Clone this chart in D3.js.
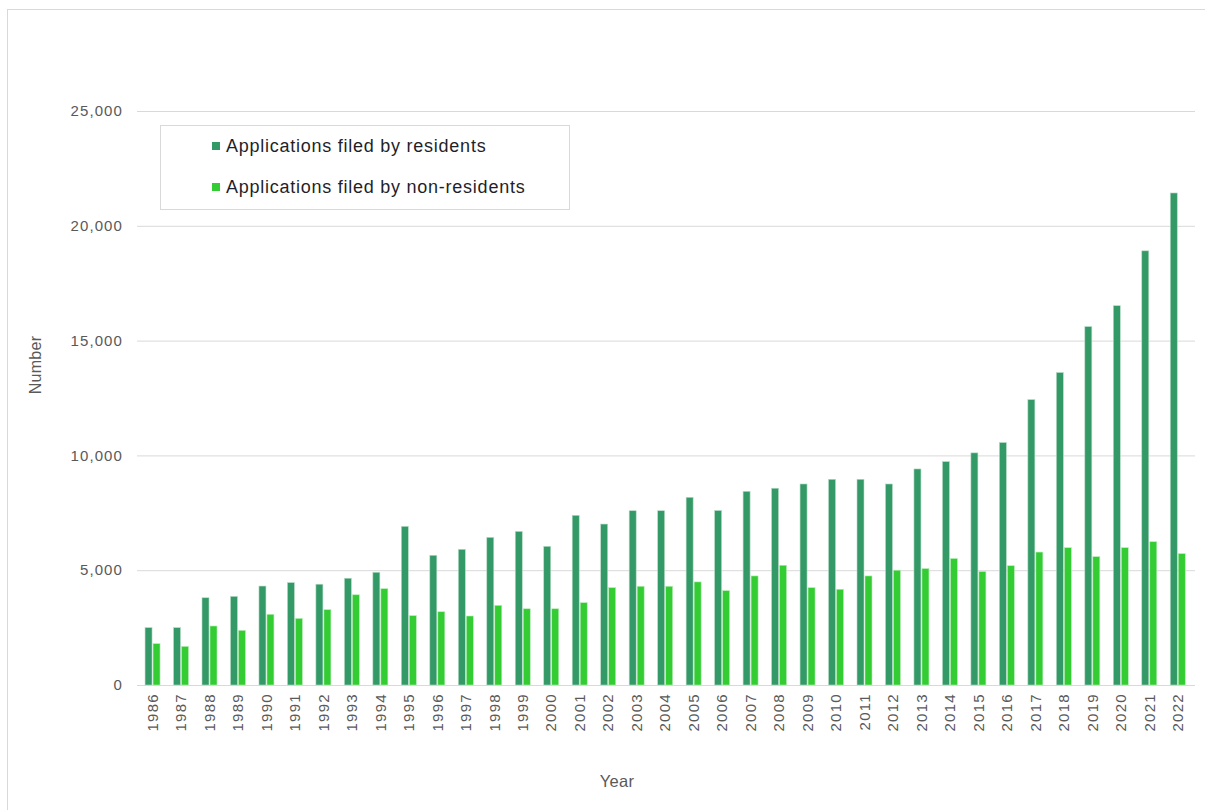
<!DOCTYPE html>
<html><head><meta charset="utf-8">
<script src="https://cdn.jsdelivr.net/npm/d3@7"></script>
<style>body{margin:0;background:#fff;font-family:"Liberation Sans",Arial,sans-serif;}</style>
</head><body><svg id="c" width="1205" height="810"></svg>
<script>
const years = ["1986","1987","1988","1989","1990","1991","1992","1993","1994","1995","1996","1997","1998","1999","2000","2001","2002","2003","2004","2005","2006","2007","2008","2009","2010","2011","2012","2013","2014","2015","2016","2017","2018","2019","2020","2021","2022"];
const residents = [2500,2500,3800,3860,4310,4460,4390,4650,4910,6910,5650,5910,6430,6690,6040,7390,7010,7590,7590,8175,7600,8435,8570,8755,8960,8960,8755,9410,9730,10110,10560,12430,13610,15610,16520,18910,21430];
const nonResidents = [1800,1680,2570,2380,3080,2900,3280,3930,4195,3020,3190,3005,3470,3320,3320,3585,4240,4300,4300,4490,4110,4750,5215,4240,4170,4750,5000,5070,5510,4940,5195,5790,5980,5590,5980,6240,5720];
const yTicks = [0,5000,10000,15000,20000,25000];
const seriesNames = ["Applications filed by residents","Applications filed by non-residents"];
const colors = ["#339966","#33CC33"];

const svg = d3.select("#c");
svg.append("rect").attr("x",7.5).attr("y",9.5).attr("width",1200).attr("height",805).attr("fill","#fff").attr("stroke","#d9d9d9");

const L=138.3, R=1192, T=111, B=685;
const x = d3.scaleBand().domain(years).range([L,R]).paddingInner(0).paddingOuter(0);
const y = d3.scaleLinear().domain([0,25000]).range([B,T]);

// gridlines
svg.append("g").selectAll("line").data(yTicks).join("line")
  .attr("x1",137).attr("x2",1195).attr("y1",d=>y(d)+0.5).attr("y2",d=>y(d)+0.5)
  .attr("stroke","#d9d9d9").attr("stroke-width",1);

// y labels
const fmt = d3.format(",");
svg.append("g").selectAll("text").data(yTicks).join("text")
  .attr("x",123).attr("y",d=>y(d)).attr("dy","0.35em").attr("text-anchor","end")
  .attr("font-size",15).attr("letter-spacing",1.1).attr("fill","#595959").text(d=>fmt(d));

const bw = 7, gap = 1;
const data = years.map((yr,i)=>({yr, r:residents[i], n:nonResidents[i]}));
const g = svg.append("g");
g.selectAll("rect.r").data(data).join("rect").attr("class","r")
  .attr("x",d=>x(d.yr)+x.bandwidth()/2-bw-gap/2).attr("width",bw)
  .attr("y",d=>y(d.r)).attr("height",d=>B-y(d.r))
  .attr("fill",colors[0]).attr("stroke","#b8dcc6").attr("stroke-width",0.6);
g.selectAll("rect.n").data(data).join("rect").attr("class","n")
  .attr("x",d=>x(d.yr)+x.bandwidth()/2+gap/2).attr("width",bw)
  .attr("y",d=>y(d.n)).attr("height",d=>B-y(d.n))
  .attr("fill",colors[1]).attr("stroke","#b9ecb9").attr("stroke-width",0.6);

// x labels
svg.append("g").selectAll("text").data(years).join("text")
  .attr("transform",d=>`translate(${x(d)+x.bandwidth()/2},693) rotate(-90)`)
  .attr("text-anchor","end").attr("dy","0.35em")
  .attr("font-size",15).attr("letter-spacing",1.3).attr("fill","#595959").text(d=>d);

// axis titles
svg.append("text").attr("transform","translate(35,365) rotate(-90)").attr("text-anchor","middle")
  .attr("dy","0.35em").attr("font-size",16).attr("letter-spacing",0.3).attr("fill","#595959").text("Number");
svg.append("text").attr("x",617).attr("y",781).attr("text-anchor","middle").attr("dy","0.35em")
  .attr("font-size",16.5).attr("letter-spacing",0.3).attr("fill","#595959").text("Year");

// legend
const lg = svg.append("g");
lg.append("rect").attr("x",160.5).attr("y",125.5).attr("width",409).attr("height",84)
  .attr("fill","#fff").attr("stroke","#d9d9d9");
seriesNames.forEach((s,i)=>{
  const cy = 146 + i*41;
  lg.append("rect").attr("x",212).attr("y",cy-4).attr("width",8).attr("height",8).attr("fill",colors[i]);
  lg.append("text").attr("x",226).attr("y",cy).attr("dy","0.35em").attr("font-size",18)
    .attr("letter-spacing",0.75).attr("fill","#1f1f2a").text(s);
});
</script></body></html>
